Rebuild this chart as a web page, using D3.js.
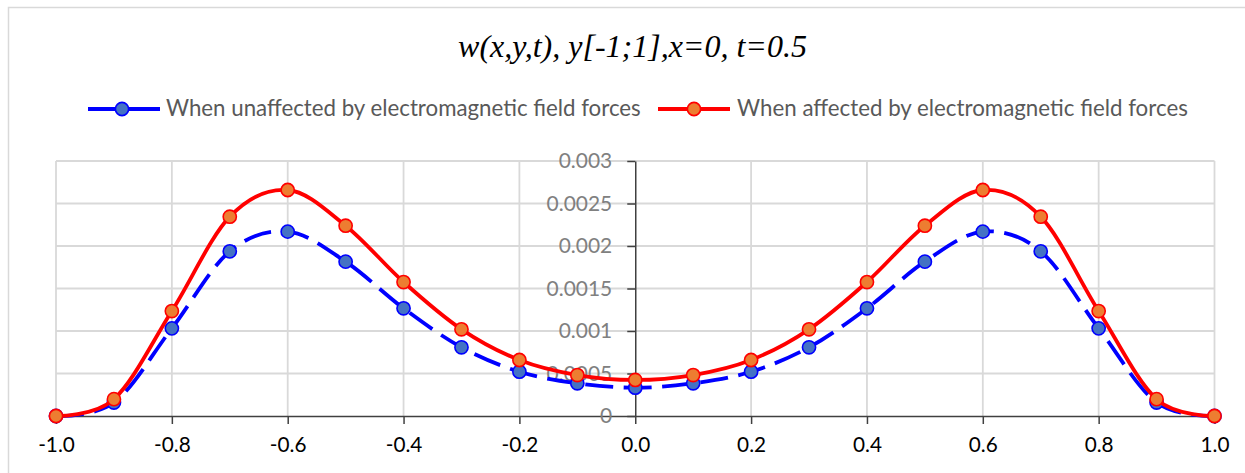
<!DOCTYPE html>
<html>
<head>
<meta charset="utf-8">
<script src="https://cdn.jsdelivr.net/npm/d3@7"></script>
<style>
  html, body { margin: 0; padding: 0; background: #fff; }
  svg { display: block; }
</style>
</head>
<body>
<svg id="chart" width="1245" height="473"></svg>
<script>
// ---------- data ----------
const titleText = "w(x,y,t), y[-1;1],x=0, t=0.5";
const seriesNames = ["When unaffected by electromagnetic field forces", "When affected by electromagnetic field forces"];
const xValues = [-1.0, -0.9, -0.8, -0.7, -0.6, -0.5, -0.4, -0.3, -0.2, -0.1, 0.0, 0.1, 0.2, 0.3, 0.4, 0.5, 0.6, 0.7, 0.8, 0.9, 1.0];
const unaffected = [0, 0.000158, 0.001031, 0.001937, 0.002169, 0.001816, 0.001267, 0.000808, 0.000521, 0.000385, 0.000333, 0.000385, 0.000521, 0.000808, 0.001267, 0.001816, 0.002169, 0.001937, 0.001031, 0.000158, 0];
const affected   = [0, 0.000198, 0.001235, 0.002345, 0.002659, 0.002239, 0.001576, 0.001020, 0.000659, 0.000482, 0.000424, 0.000482, 0.000659, 0.001020, 0.001576, 0.002239, 0.002659, 0.002345, 0.001235, 0.000198, 0];
const xTicks = [-1.0, -0.8, -0.6, -0.4, -0.2, 0.0, 0.2, 0.4, 0.6, 0.8, 1.0];
const yTicks = [0, 0.0005, 0.001, 0.0015, 0.002, 0.0025, 0.003];
const yTickLabels = ["0", "0.0005", "0.001", "0.0015", "0.002", "0.0025", "0.003"];

// ---------- layout ----------
const svg = d3.select("#chart");
const plot = { left: 56, right: 1214.5, top: 161, bottom: 416 };
const x = d3.scaleLinear().domain([-1, 1]).range([plot.left, plot.right]);
const y = d3.scaleLinear().domain([0, 0.003]).range([plot.bottom, plot.top]);

const gridColor = "#d9d9d9";
const axisColor = "#404040";
const fontFam = "Lato, 'Open Sans', sans-serif";

// chart border
svg.append("rect")
  .attr("x", 8.5).attr("y", 7.5).attr("width", 1300).attr("height", 500)
  .attr("fill", "#fff").attr("stroke", gridColor).attr("stroke-width", 1.5);

// helper: font size that makes a text node a target width
function fitSize(sel, target) {
  const fs = parseFloat(sel.attr("font-size"));
  const w = sel.node().getComputedTextLength();
  return w > 0 ? fs * target / w : fs;
}

// title
const title = svg.append("text")
  .attr("x", 632.5).attr("y", 57)
  .attr("text-anchor", "middle")
  .attr("font-family", "'Liberation Serif', 'Times New Roman', serif")
  .attr("font-style", "italic")
  .attr("font-size", 24)
  .attr("fill", "#000")
  .text(titleText);
title.attr("font-size", fitSize(title, 349).toFixed(2));

// gridlines
const grid = svg.append("g");
grid.selectAll("line.h").data(yTicks.filter(d => d > 0)).join("line")
  .attr("x1", plot.left).attr("x2", plot.right)
  .attr("y1", d => y(d)).attr("y2", d => y(d))
  .attr("stroke", gridColor).attr("stroke-width", 1.8);
grid.selectAll("line.v").data(xTicks.filter(d => d !== 0)).join("line")
  .attr("x1", d => x(d)).attr("x2", d => x(d))
  .attr("y1", plot.top).attr("y2", plot.bottom)
  .attr("stroke", gridColor).attr("stroke-width", 1.8);

// x axis
const xAxis = svg.append("g").attr("transform", `translate(0,${y(0)})`)
  .call(d3.axisBottom(x).tickValues(xTicks).tickFormat(d3.format(".1f")).tickSize(8).tickSizeOuter(0).tickPadding(13));
xAxis.select(".domain").attr("stroke", axisColor).attr("stroke-width", 1.5);
xAxis.selectAll(".tick line").attr("stroke", axisColor).attr("stroke-width", 1.5);
const xLabels = xAxis.selectAll(".tick text")
  .attr("font-family", fontFam).attr("font-size", 20).attr("fill", "#000")
  .text(d => d3.format(".1f")(d).replace("−", "-"));
const xFs = fitSize(xAxis.select(".tick text"), 36.7);
xLabels.attr("font-size", xFs.toFixed(2));

// y axis at x = 0
const yAxis = svg.append("g").attr("transform", `translate(${x(0)},0)`)
  .call(d3.axisLeft(y).tickValues(yTicks).tickFormat((d, i) => yTickLabels[i]).tickSize(8).tickSizeOuter(0).tickPadding(15));
yAxis.select(".domain").attr("stroke", axisColor).attr("stroke-width", 1.5);
yAxis.selectAll(".tick line").attr("stroke", axisColor).attr("stroke-width", 1.5);
const yLabels = yAxis.selectAll(".tick text")
  .attr("font-family", fontFam).attr("font-size", 20).attr("fill", "#808080");
const yFs = fitSize(yLabels.filter((d, i) => i === 5), 65.7);
yLabels.attr("font-size", yFs.toFixed(2));

// series
const series = [
  { name: seriesNames[0], values: unaffected, line: "#0000ff", fill: "#4472c4", dash: "28,10.5" },
  { name: seriesNames[1], values: affected, line: "#ff0000", fill: "#ed7d31", dash: null }
];
const lineGen = d3.line().x(d => x(d[0])).y(d => y(d[1])).curve(d3.curveCatmullRom.alpha(0));

series.forEach(s => {
  const pts = xValues.map((xv, i) => [xv, s.values[i]]);
  svg.append("path").datum(pts)
    .attr("d", lineGen)
    .attr("fill", "none")
    .attr("stroke", s.line)
    .attr("stroke-width", 3.8)
    .attr("stroke-linejoin", "round")
    .attr("stroke-dasharray", s.dash);
  svg.append("g").selectAll("circle").data(pts).join("circle")
    .attr("cx", d => x(d[0])).attr("cy", d => y(d[1]))
    .attr("r", 6.6)
    .attr("fill", s.fill)
    .attr("stroke", s.line)
    .attr("stroke-width", 1.6);
});

// legend
const legendItems = [
  { s: series[0], x1: 88, x2: 160, mx: 122, tx: 166, tw: 475 },
  { s: series[1], x1: 658, x2: 730, mx: 694, tx: 737, tw: 451 }
];
const legY = 109;
legendItems.forEach(li => {
  const g = svg.append("g");
  g.append("line")
    .attr("x1", li.x1).attr("x2", li.x2).attr("y1", legY).attr("y2", legY)
    .attr("stroke", li.s.line).attr("stroke-width", 3.8);
  g.append("circle")
    .attr("cx", li.mx).attr("cy", legY).attr("r", 6.6)
    .attr("fill", li.s.fill).attr("stroke", li.s.line).attr("stroke-width", 1.6);
  const t = g.append("text")
    .attr("x", li.tx).attr("y", legY + 7)
    .attr("font-family", fontFam).attr("font-size", 20)
    .attr("fill", "#595959")
    .text(li.s.name);
  t.attr("font-size", fitSize(t, li.tw).toFixed(2));
});
</script>
</body>
</html>
